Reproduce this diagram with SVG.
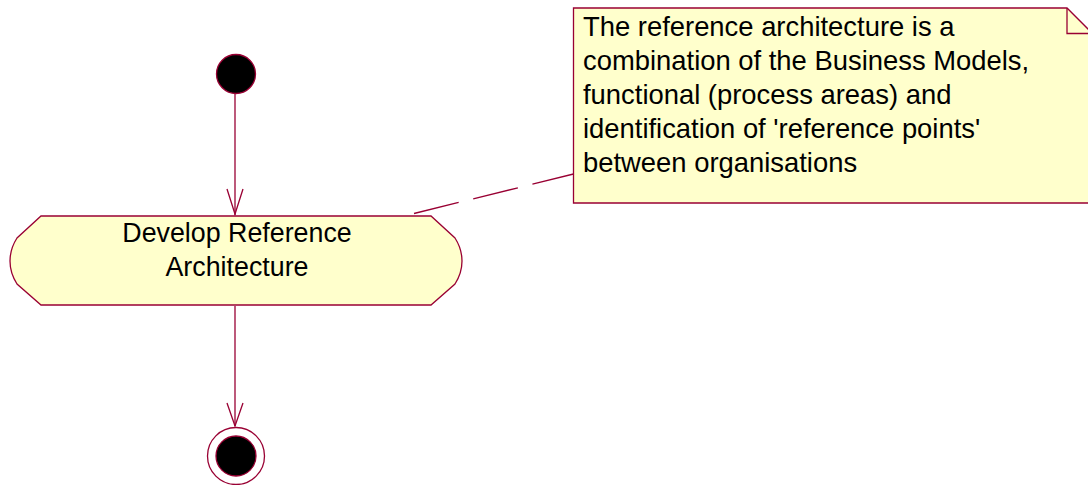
<svg xmlns="http://www.w3.org/2000/svg" width="1088" height="485" viewBox="0 0 1088 485">
  <style>
    .edge { stroke: #990033; stroke-width: 1.3; fill: none; }
    .shape { fill: #FFFFCC; stroke: #990033; stroke-width: 1.3; }
    .dot { fill: #000000; stroke: #990033; stroke-width: 1.3; }
    .label { font-family: "Liberation Sans", Arial, sans-serif; font-size: 26.8px; fill: #000000; }
    .note-text { font-size: 27.4px; }
  </style>
  <rect width="1088" height="485" fill="#FFFFFF"/>

  <!-- connectors -->
  <g id="connectors">
    <path class="edge" d="M235 94 L235 215"/>
    <path class="edge" d="M227 189 L235 214 L243 189"/>
    <path class="edge" d="M235 306 L235 426"/>
    <path class="edge" d="M227 403 L235 426 L243 403"/>
    <path class="edge" d="M414 213.5 L573.5 174" stroke-dasharray="46 15"/>
  </g>

  <!-- start state -->
  <g id="start">
    <circle class="dot" cx="236" cy="74" r="19.5"/>
  </g>

  <!-- activity -->
  <g id="develop-reference-architecture">
    <path class="shape" d="M41 216 L431 216 L455 238 Q462 249 462 261 Q462 273 455 284 L431 305 L41 305 L17 284 Q10 273 10 261 Q10 249 17 238 Z"/>
    <text class="label" x="237" y="242" text-anchor="middle">Develop Reference</text>
    <text class="label" x="237" y="276" text-anchor="middle">Architecture</text>
  </g>

  <!-- end state -->
  <g id="end">
    <circle cx="236" cy="456" r="28.5" fill="#FFFFFF" stroke="#990033" stroke-width="1.3"/>
    <circle class="dot" cx="236" cy="456" r="20"/>
  </g>

  <!-- note -->
  <g id="note">
    <path class="shape" d="M573.5 8 L1067 8 L1093 34 L1093 203 L573.5 203 Z"/>
    <path class="edge" d="M1067 8 L1067 33.5 L1093 33.5"/>
    <text class="label note-text" x="583" y="36">The reference architecture is a</text>
    <text class="label note-text" x="583" y="70">combination of the Business Models,</text>
    <text class="label note-text" x="583" y="104">functional (process areas) and</text>
    <text class="label note-text" x="583" y="138">identification of 'reference points'</text>
    <text class="label note-text" x="583" y="172">between organisations</text>
  </g>
</svg>
